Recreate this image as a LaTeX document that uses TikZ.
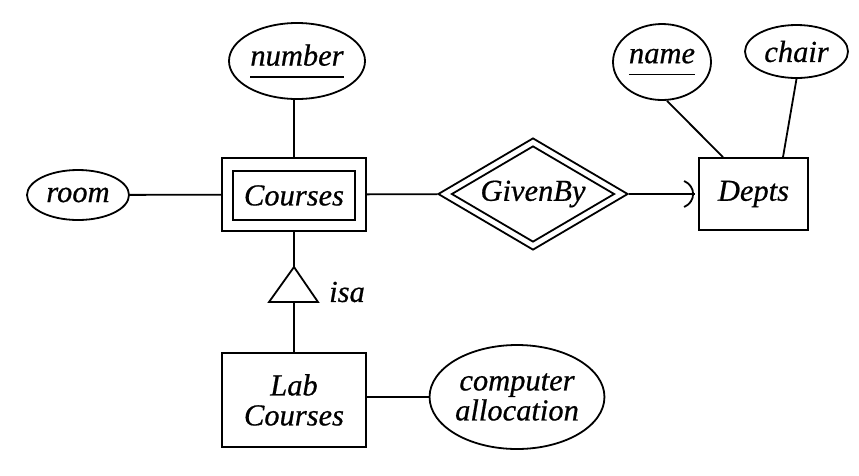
\documentclass[tikz,border=0pt]{standalone}
\usepackage{fontspec}
\newfontfamily\erfont{Liberation Serif Italic}[FakeBold=0.6]
\usetikzlibrary{shapes.geometric}
\newcommand\keyul[1]{\setbox0=\hbox{#1}\rlap{\rule[-12pt]{\wd0}{1.3pt}}\box0}
\begin{document}
\begin{tikzpicture}[x=1pt,y=-1pt, line width=1.8pt,
  every node/.style={font=\fontsize{30.5}{30}\selectfont\erfont, inner sep=0pt},
  attr/.style={draw, ellipse},
  entity/.style={draw, rectangle},
  rel/.style={draw, diamond, shape aspect=1.7}]
\useasboundingbox (0,0) rectangle (859,475);
% attributes
\node[attr, minimum width=136, minimum height=76] (number) at (297,61) {\keyul{number}};
\node[attr, minimum width=98, minimum height=76] (name) at (662,62) {\keyul{name}};
\node[attr, minimum width=103, minimum height=53] (chair) at (796.5,51.5) {chair};
\node[attr, minimum width=102, minimum height=50] (room) at (78,195) {room};
\node[attr, minimum width=143, minimum height=104, align=center] (comp) at (517,397) {computer\\allocation};
% entities
\node[entity, minimum width=144, minimum height=73] (courses) at (294,194.5) {};
\node[entity, minimum width=122, minimum height=49] (coursesin) at (294,195.5) {Courses};
\node[entity, minimum width=109, minimum height=72] (depts) at (753.5,194) {Depts};
\node[entity, minimum width=144, minimum height=94, align=center] (lab) at (294,400) {Lab\\Courses};
% relationship
\node[rel, minimum width=190, minimum height=112] (givenby) at (533,194) {};
\node[rel, minimum width=163, minimum height=96] (givenbyin) at (533,194) {GivenBy};
% isa triangle
\coordinate (isatop) at (294,267);
\coordinate (isabot) at (294,302);
\draw (isatop) -- (269,302) -- (318,302) -- cycle;
\node (isa) at (347,292) {isa};
% connectors
\draw (room) -- (courses);
\draw (number.south -| courses) -- (courses);
\draw (courses) -- (givenby);
\coordinate (arctip) at ([xshift=-3pt]depts.west);
\draw (givenby) -- (arctip);
\draw ([shift={(-11pt,13pt)}]arctip) .. controls ([shift={(1pt,8pt)}]arctip) and ([shift={(1pt,-8pt)}]arctip) .. ([shift={(-11pt,-13pt)}]arctip);
\draw ([xshift=5pt]name.south) -- ([xshift=-30.5pt]depts.north);
\draw (chair.south) -- ([xshift=29.5pt]depts.north);
\draw (courses) -- (isatop);
\draw (isabot) -- (lab);
\draw (lab.east |- comp.west) -- (comp.west);
\end{tikzpicture}
\end{document}
